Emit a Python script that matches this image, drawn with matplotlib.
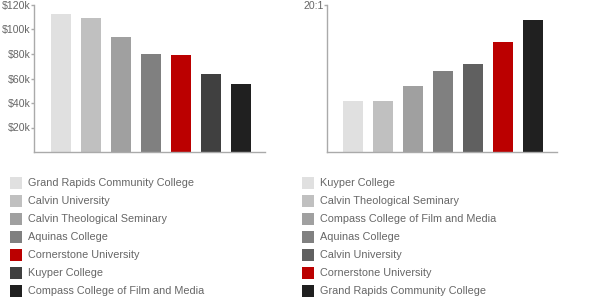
import matplotlib
matplotlib.use("Agg")
import matplotlib.pyplot as plt
from matplotlib.patches import Rectangle

plt.rcParams['font.family'] = ['Liberation Sans', 'DejaVu Sans']

# left chart: salary
salary_names = ["Grand Rapids Community College", "Calvin University",
                "Calvin Theological Seminary", "Aquinas College",
                "Cornerstone University", "Kuyper College",
                "Compass College of Film and Media"]
salary_values = [113, 109.5, 94, 79.7, 79, 63.7, 55.5]  # thousands
salary_colors = ["#e0e0e0", "#c0c0c0", "#a0a0a0", "#808080",
                 "#bb0000", "#404040", "#202020"]
salary_ticks = [20, 40, 60, 80, 100, 120]
salary_ticklabels = ["$20k", "$40k", "$60k", "$80k", "$100k", "$120k"]

# right chart: student/faculty ratio
ratio_names = ["Kuyper College", "Calvin Theological Seminary",
               "Compass College of Film and Media", "Aquinas College",
               "Calvin University", "Cornerstone University",
               "Grand Rapids Community College"]
ratio_values = [7, 7, 9, 11, 12, 15, 18]
ratio_colors = ["#e0e0e0", "#c0c0c0", "#a0a0a0", "#808080",
                "#606060", "#bb0000", "#202020"]

AXIS = "#aaaaaa"
TEXT = "#666666"

fig = plt.figure(figsize=(6, 3), dpi=100)
W, H = 600, 300


def px_axes(x0, x1, ytop, ybot):
    return fig.add_axes([x0 / W, 1 - ybot / H, (x1 - x0) / W, (ybot - ytop) / H])


def style(ax):
    for s in ["top", "right"]:
        ax.spines[s].set_visible(False)
    for s in ["left", "bottom"]:
        ax.spines[s].set_color(AXIS)
        ax.spines[s].set_linewidth(1)
    ax.set_xticks([])
    ax.tick_params(axis="y", colors=AXIS, length=2, width=1, labelsize=7.6,
                   labelcolor=TEXT, pad=0.5)


ax1 = px_axes(34, 265, 5, 152)
ax1.bar(range(len(salary_values)), salary_values, width=0.667,
        color=salary_colors)
ax1.set_ylim(0, 120)
ax1.set_xlim(-0.9, 6.8)
style(ax1)
ax1.set_yticks(salary_ticks)
ax1.set_yticklabels(salary_ticklabels)

ax2 = px_axes(327, 557, 5, 152)
ax2.bar(range(len(ratio_values)), ratio_values, width=0.667,
        color=ratio_colors)
ax2.set_ylim(0, 20)
ax2.set_xlim(-0.87, 6.8)
style(ax2)
ax2.set_yticks([20])
ax2.set_yticklabels(["20:1"])


def legend(names, colors, xbox, xtext):
    for i, (n, c) in enumerate(zip(names, colors)):
        yc = 182.5 + i * 18
        fig.add_artist(Rectangle((xbox / W, 1 - (yc + 6) / H), 12 / W, 12 / H,
                                 transform=fig.transFigure, color=c, lw=0))
        fig.text(xtext / W, 1 - yc / H, n, fontsize=7.8, color=TEXT,
                 va="center", ha="left")


legend(salary_names, salary_colors, 10, 28)
legend(ratio_names, ratio_colors, 302, 320)

fig.savefig("out.png", dpi=100)
